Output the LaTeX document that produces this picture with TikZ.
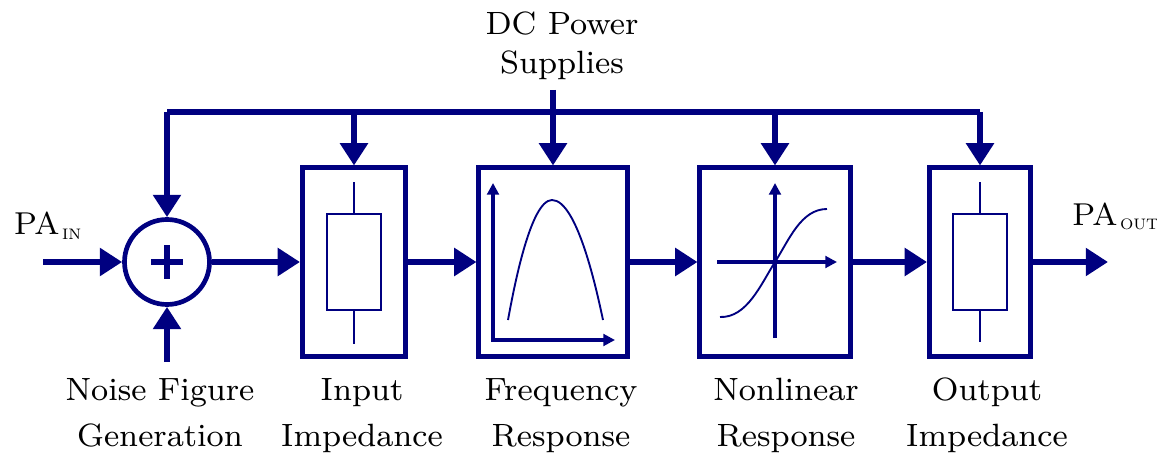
\documentclass[tikz,border=0pt]{standalone}
\usepackage{fontspec}
\usepackage{tikz}
\usetikzlibrary{arrows.meta,positioning}
\definecolor{navyblue}{RGB}{0,0,128}
\newfontfamily\lblfont{lmroman8-regular.otf}
\newfontfamily\subfont{lmroman7-regular.otf}

\begin{document}
\begin{tikzpicture}[x=0.03cm,y=-0.03cm,
  wire/.style={navyblue,line width=4.8pt},
  conn/.style={wire,-{Triangle[length=19pt,width=23pt]}},
  block/.style={draw=navyblue,line width=4pt,minimum height=5.65cm},
  axis/.style={navyblue,line width=3pt},
  tip/.style={-{Triangle[length=10pt,width=10pt]}},
  lbl/.style={align=center,anchor=north,inner sep=0pt,font=\lblfont\fontsize{27.5pt}{39.3pt}\selectfont},
  pa/.style={anchor=base west,inner sep=0pt,font=\lblfont\fontsize{27pt}{28pt}\selectfont}]
\useasboundingbox (0,0) rectangle (1157,455);
\clip (0,0) rectangle (1157,455);
% blocks
\node[circle,draw=navyblue,line width=4pt,minimum size=2.55cm] (sum) at (167,262) {};
\node[block,minimum width=3.10cm] (zin) at (354,262) {};
\node[block,minimum width=4.45cm] (freq) at (553,262) {};
\node[block,minimum width=4.51cm] (nonlin) at (775,262) {};
\node[block,minimum width=3.04cm] (zout) at (980,262) {};
% adder sign
\draw[wire] ([xshift=-0.48cm]sum.center) -- ([xshift=0.48cm]sum.center);
\draw[wire] ([yshift=-0.5cm]sum.center) -- ([yshift=0.5cm]sum.center);
% input impedance
\begin{scope}[shift={(zin.center)},navyblue]
\draw[line width=2.4pt] (-27,-48) rectangle (27,48);
\draw[line width=1.8pt] (0,-48) -- (0,-80) (0,48) -- (0,82);
\end{scope}
% frequency response
\begin{scope}[shift={(freq.center)}]
\draw[axis,{Triangle[length=10pt,width=10pt]}-{Triangle[length=10pt,width=10pt]}] (-60,-79) -- (-60,78) -- (62,78);
\draw[navyblue,line width=1.6pt] (-45,58) parabola bend (-1,-62) (50,58);
\end{scope}
% nonlinear response
\begin{scope}[shift={(nonlin.center)}]
\draw[axis,tip] (-58,0) -- (62,0);
\draw[axis,tip] (0,76) -- (0,-79);
\draw[navyblue,line width=1.6pt] (-55,55) .. controls (-28,56) and (-14,22) .. (0,0)
  .. controls (14,-22) and (26,-53) .. (52,-53);
\end{scope}
% output impedance
\begin{scope}[shift={(zout.center)},navyblue]
\draw[line width=2.4pt] (-27,-48) rectangle (27,48);
\draw[line width=1.8pt] (0,-48) -- (0,-80) (0,48) -- (0,80);
\end{scope}
% signal path
\coordinate (pain) at (43,262);
\coordinate (noise) at (167,362);
\coordinate (paout) at (1108,262);
\draw[conn] (pain) -- (sum.west);
\draw[conn] (noise) -- (sum.south);
\draw[conn] (sum.east) -- (zin.west);
\draw[conn] (zin.east) -- (freq.west);
\draw[conn] (freq.east) -- (nonlin.west);
\draw[conn] (nonlin.east) -- (zout.west);
\draw[conn] (zout.east) -- (paout);
% supply bus
\coordinate (bus) at (167,112);
\coordinate (dc) at (553,90);
\draw[wire] (bus) -- (zout.north |- bus);
\draw[conn] (bus) -- (sum.north);
\draw[conn] (zin.north |- bus) -- (zin.north);
\draw[conn] (dc) -- (freq.north);
\draw[conn] (nonlin.north |- bus) -- (nonlin.north);
\draw[conn] (zout.north |- bus) -- (zout.north);
% labels
\node[lbl,font=\lblfont\fontsize{27.5pt}{33pt}\selectfont] (dctxt) at (562,12) {DC Power\\Supplies};
\node[lbl] (nfgtxt) at (160,378) {Noise Figure\\Generation};
\node[lbl] (zintxt) at (362,378) {Input\\Impedance};
\node[lbl] (freqtxt) at (561,378) {Frequency\\Response};
\node[lbl] (nonlintxt) at (786,378) {Nonlinear\\Response};
\node[lbl] (zouttxt) at (987,378) {Output\\Impedance};
\node[pa] (paintxt) at (14,234) {PA\raisebox{-5pt}{\subfont\fontsize{13pt}{14pt}\selectfont\,IN}};
\node[pa] (paouttxt) at (1072,225) {PA\raisebox{-4pt}{\subfont\fontsize{13pt}{14pt}\selectfont\,OUT}};
\end{tikzpicture}
\end{document}
